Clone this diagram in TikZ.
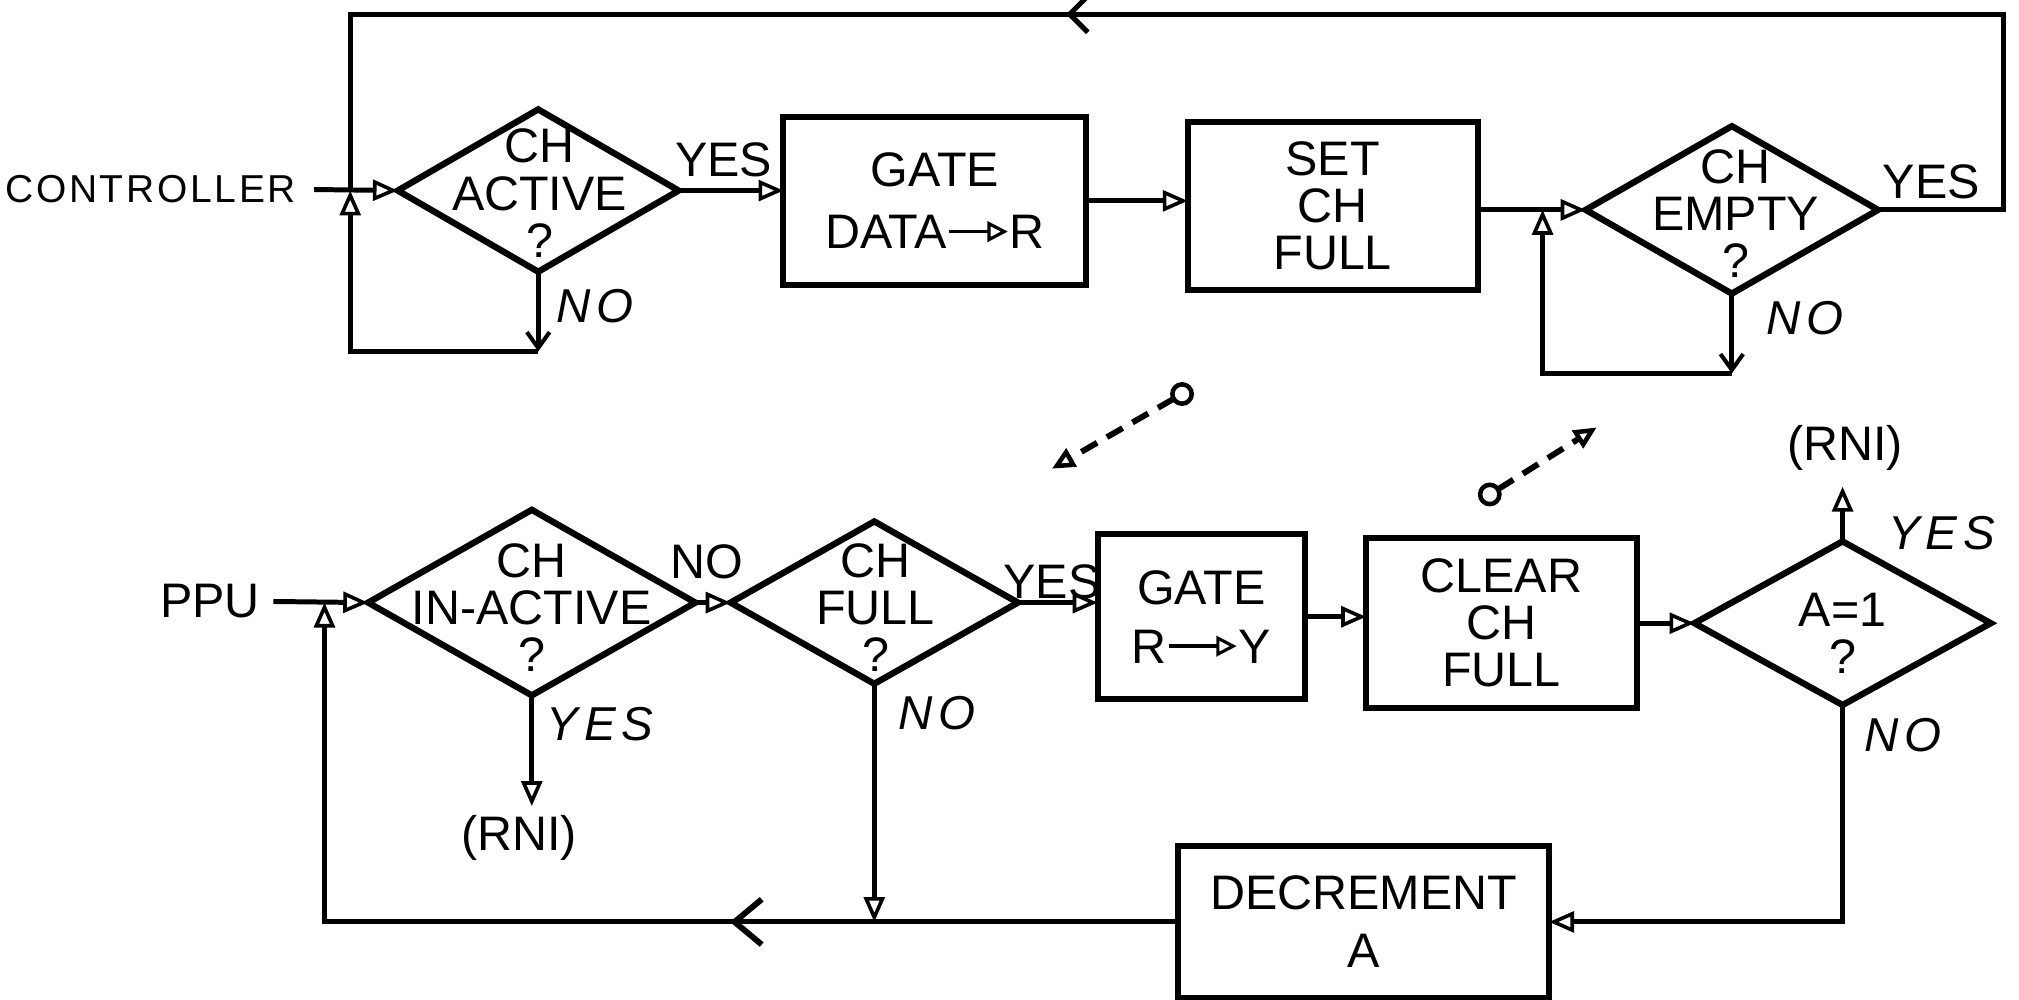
\documentclass[tikz,border=0pt]{standalone}
\usepackage{fontspec}
\setmainfont{Liberation Sans}
\usetikzlibrary{shapes.geometric,arrows.meta,decorations.markings}
\newcommand\txtarr[1]{\tikz[x=1pt,y=1pt,baseline=0pt]{\draw[line width=0.8pt,-{Triangle[open,length=4.5pt,width=4.5pt,line width=0.7pt]}] (0,3.8) -- (#1,3.8);}}
\begin{document}
\begin{tikzpicture}[x=0.01cm,y=-0.01cm,
  every node/.style={inner sep=0pt, outer sep=0pt},
  txt/.style={font=\fontsize{10.7}{10.4}\selectfont, align=center},
  lab/.style={font=\fontsize{10.7}{10.4}\selectfont},
  hand/.style={font=\fontsize{10.5}{10.5}\selectfont\itshape\addfontfeature{LetterSpace=12}},
  box/.style={draw, line width=1.3pt, rectangle, txt},
  dia/.style={draw, line width=1.4pt, diamond},
  conn/.style={line width=1.1pt},
  flow/.style={conn, -{Triangle[open,length=5.5pt,width=4.6pt,line width=0.8pt]}},
  barbd/.style={conn, -{Straight Barb[length=3.5pt,width=5pt,line width=0.9pt]}},
  midbarb/.style={decorate, decoration={markings, mark=at position #1 with {\arrow[line width=1.1pt]{Straight Barb[length=4pt,width=8pt]}}}},
  bigbarb/.style={decorate, decoration={markings, mark=at position #1 with {\arrow[line width=1.3pt]{Straight Barb[length=6pt,width=10pt]}}}},
  dasharrow/.style={line width=1.3pt, dash pattern=on 4pt off 2.5pt, -{Triangle[open,length=5pt,width=4.5pt,line width=1pt]}},
  ring/.style={circle, draw, line width=1pt, minimum size=0.15cm}
]
\fill[white] (0,0) rectangle (1568,776);
\useasboundingbox (0,0) rectangle (1568,776);

% ---------------- top row ----------------
\node[font=\fontsize{8.6}{8.6}\selectfont\addfontfeature{LetterSpace=7}] (ctrl) at (117,147) {CONTROLLER};
\coordinate (j1) at (272,148);
\node[dia, minimum width=2.18cm, minimum height=1.26cm] (d1) at (418,148) {};
\node[txt] (d1t) at (419,150) {CH\\ACTIVE\\?};
\node[lab] (yes1) at (562,124) {YES};
\node[box, minimum width=2.35cm, minimum height=1.30cm] (g1) at (726,156) {GATE\\[3.3pt]DATA\txtarr{13}R};
\node[box, minimum width=2.25cm, minimum height=1.30cm] (s1) at (1035,160) {SET\\CH\\FULL};
\coordinate (j2) at (1198,163);
\node[dia, minimum width=2.27cm, minimum height=1.30cm] (d2) at (1345,163) {};
\node[txt] (d2t) at (1348,166) {CH\\EMPTY\\?};
\node[lab] (yes2) at (1500,141) {YES};
\node[hand] (no1) at (462,238) {NO};
\node[hand] (no2) at (1402,247) {NO};

\coordinate (l1) at (418,273);
\coordinate (l1c) at (272,273);
\coordinate (l2) at (1345,290);
\coordinate (l2c) at (1198,290);
\coordinate (tr) at (1556,11);
\coordinate (tl) at (272,11);

\draw[flow, shorten <=4pt] (ctrl.east) -- (d1.west);
\draw[flow] (d1.east) -- (d1.east -| g1.west);
\draw[flow] (g1.east) -- (g1.east -| s1.west);
\draw[flow] (s1.east |- d2.west) -- (d2.west);
\draw[barbd] (d1.south) -- (l1);
\draw[flow] (l1) -- (l1c) -- (j1);
\draw[barbd] (d2.south) -- (l2);
\draw[flow] (l2) -- (l2c) -- (j2);
\draw[conn] (d2.east) -| (tr) -- (tl) -- (j1);
\path[midbarb=0.567] (tr) -- (tl);

% ---------------- dashed links ----------------
\node[ring] (c1) at (918,306) {};
\coordinate (t1) at (817,364);
\draw[dasharrow] (c1) -- (t1);
\node[ring] (c2) at (1157,384) {};
\coordinate (t2) at (1240,332);
\draw[dasharrow] (c2) -- (t2);

% ---------------- bottom row ----------------
\node[lab] (ppu) at (163,467) {PPU};
\coordinate (j3) at (252,468);
\node[dia, minimum width=2.54cm, minimum height=1.44cm] (d3) at (413,468) {};
\node[txt] (d3t) at (413,472) {CH\\IN-ACTIVE\\?};
\node[lab] (no3) at (549,436) {NO};
\node[dia, minimum width=2.23cm, minimum height=1.26cm] (d4) at (679,468) {};
\node[txt] (d4t) at (680,472) {CH\\FULL\\?};
\node[lab] (yes4) at (817,452) {YES};
\node[box, minimum width=1.61cm, minimum height=1.28cm] (g2) at (933,479) {GATE\\[2.7pt]R\txtarr{15}Y};
\node[box, minimum width=2.10cm, minimum height=1.32cm] (cl) at (1166,484) {CLEAR\\CH\\FULL};
\node[dia, minimum width=2.30cm, minimum height=1.27cm] (d5) at (1431,484) {};
\node[txt] (d5t) at (1431,492) {A=1\\?};
\node[lab] (rni2) at (1433,348) {(RNI)};
\node[hand] (yes5) at (1508,414) {YES};
\node[hand] (no5) at (1478,571) {NO};
\node[box, minimum width=2.88cm, minimum height=1.18cm] (dec) at (1059,716) {DECREMENT\\[2.4pt]A};
\node[hand] (yes3) at (466,562) {YES};
\node[lab] (rni1) at (403,651) {(RNI)};
\node[hand] (no4) at (728,554) {NO};

\coordinate (y3) at (413,626);
\coordinate (n4) at (679,716);
\coordinate (r2) at (1431,378);
\coordinate (n5) at (1431,716);
\coordinate (bl) at (252,716);

\draw[flow, shorten <=3pt] (ppu.east) -- (d3.west);
\draw[flow] (d3.east) -- (d3.east -| d4.west);
\draw[flow] (d4.east) -- (d4.east -| g2.west);
\draw[flow] (g2.east) -- (g2.east -| cl.west);
\draw[flow] (cl.east |- d5.west) -- (d5.west);
\draw[flow] (d5.north) -- (r2);
\draw[flow] (d5.south) -- (n5) -- (dec.east);
\draw[flow] (dec.west) -- (bl) -- (j3);
\path[bigbarb=0.525] (dec.west) -- (bl);
\draw[flow] (d4.south) -- (n4);
\draw[flow] (d3.south) -- (y3);
\end{tikzpicture}
\end{document}
